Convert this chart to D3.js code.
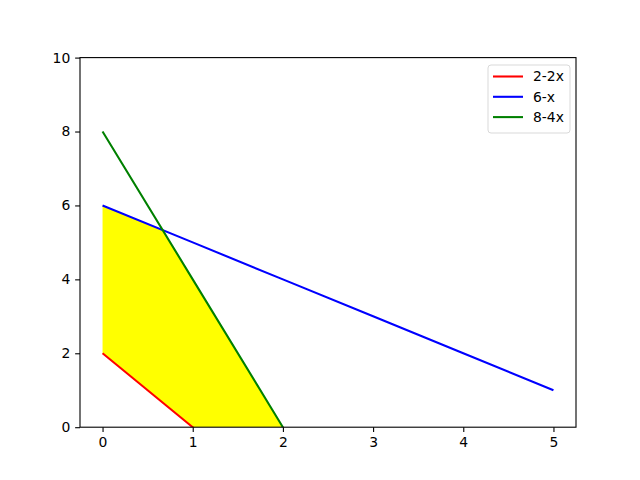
<!DOCTYPE html>
<html>
<head>
<meta charset="utf-8">
<script src="https://cdn.jsdelivr.net/npm/d3@7"></script>
<style>
  body { margin: 0; background: #fff; }
  svg text { font-family: "DejaVu Sans", sans-serif; }
</style>
</head>
<body>
<div id="chart"></div>
<script>
// data
const xValues = [0, 1, 2, 3, 4, 5];
const seriesNames = ["2-2x", "6-x", "8-4x"];
const seriesColors = ["#ff0000", "#0000ff", "#008000"];
const seriesValues = [
  [2, 0, -2, -4, -6, -8],
  [6, 5, 4, 3, 2, 1],
  [8, 4, 0, -4, -8, -12]
];
// feasible region (yellow): corner x positions with lower / upper bounds
const fillX = [0, 2 / 3, 1, 2];
const fillLower = [2, 2 / 3, 0, 0];
const fillUpper = [6, 16 / 3, 4, 0];
const xTicks = [0, 1, 2, 3, 4, 5];
const yTicks = [0, 2, 4, 6, 8, 10];

const width = 640, height = 480;
const margin = { top: 57.6, right: 64, bottom: 52.8, left: 80 };
const plotW = width - margin.left - margin.right;
const plotH = height - margin.top - margin.bottom;

const svg = d3.select("#chart").append("svg")
  .attr("width", width)
  .attr("height", height);

const x = d3.scaleLinear().domain([-0.25, 5.25]).range([margin.left, margin.left + plotW]);
const y = d3.scaleLinear().domain([0, 10]).range([margin.top + plotH, margin.top]);

svg.append("clipPath").attr("id", "clip")
  .append("rect")
  .attr("x", margin.left).attr("y", margin.top)
  .attr("width", plotW).attr("height", plotH);

const plot = svg.append("g").attr("clip-path", "url(#clip)");

// fill
const fillData = fillX.map((d, i) => ({ x: d, lo: fillLower[i], hi: fillUpper[i] }));
plot.append("path")
  .datum(fillData)
  .attr("fill", "#ffff00")
  .attr("d", d3.area().x(d => x(d.x)).y0(d => y(d.lo)).y1(d => y(d.hi)));

// lines
const line = d3.line().x(d => x(d[0])).y(d => y(d[1]));
seriesValues.forEach((vals, i) => {
  plot.append("path")
    .datum(xValues.map((xv, j) => [xv, vals[j]]))
    .attr("fill", "none")
    .attr("stroke", seriesColors[i])
    .attr("stroke-width", 2.08)
    .attr("d", line);
});

// axes
const xAxis = svg.append("g")
  .attr("transform", `translate(0,${margin.top + plotH})`)
  .call(d3.axisBottom(x).tickValues(xTicks).tickFormat(d3.format("d")).tickSize(4.86).tickPadding(4.86));
const yAxis = svg.append("g")
  .attr("transform", `translate(${margin.left},0)`)
  .call(d3.axisLeft(y).tickValues(yTicks).tickFormat(d3.format("d")).tickSize(4.86).tickPadding(4.86));

[xAxis, yAxis].forEach(g => {
  g.select(".domain").remove();
  g.selectAll("line").attr("stroke", "#000").attr("stroke-width", 1.1);
  g.selectAll("text").attr("font-size", 13.9).attr("fill", "#000");
});

// frame
svg.append("rect")
  .attr("x", margin.left).attr("y", margin.top)
  .attr("width", plotW).attr("height", plotH)
  .attr("fill", "none")
  .attr("stroke", "#000")
  .attr("stroke-width", 1.1);

// legend
const legend = svg.append("g").attr("transform", "translate(488,65)");
legend.append("rect")
  .attr("width", 82).attr("height", 68)
  .attr("rx", 3)
  .attr("fill", "#fff").attr("fill-opacity", 0.8)
  .attr("stroke", "#d9d9d9");
seriesNames.forEach((name, i) => {
  const ly = 11.5 + i * 20.3;
  legend.append("line")
    .attr("x1", 5).attr("x2", 35)
    .attr("y1", ly).attr("y2", ly)
    .attr("stroke", seriesColors[i]).attr("stroke-width", 2.08);
  legend.append("text")
    .attr("x", 45).attr("y", ly)
    .attr("dy", "0.35em")
    .attr("font-size", 13.9)
    .text(name);
});
</script>
</body>
</html>
